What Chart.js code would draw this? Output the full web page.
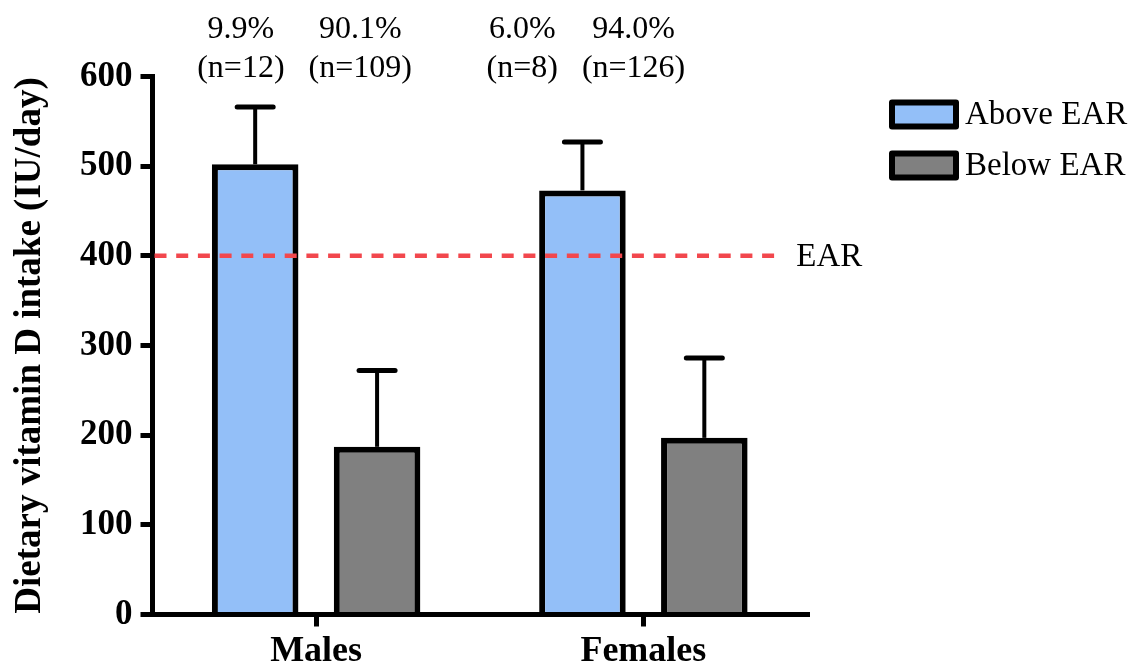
<!DOCTYPE html>
<html>
<head>
<meta charset="utf-8">
<script src="https://cdn.jsdelivr.net/npm/chart.js@4/dist/chart.umd.min.js"></script>
<style>
  html, body { margin: 0; padding: 0; background: #ffffff; }
  #wrap { width: 1148px; height: 666px; position: relative; }
</style>
</head>
<body>
<div id="wrap"><canvas id="c" width="1148" height="666"></canvas></div>
<script>
// ---- data ----
const categories = ['Males', 'Females'];
const seriesNames = ['Above EAR', 'Below EAR'];
const aboveValues = [502, 473];
const belowValues = [187, 197];
const aboveErrors = [64, 54];
const belowErrors = [85, 89];
const earValue = 400;
const earLabel = 'EAR';
const pctTexts = ['9.9%', '90.1%', '6.0%', '94.0%'];
const nTexts = ['(n=12)', '(n=109)', '(n=8)', '(n=126)'];
const yTickMin = 0;
const yTickMax = 600;
const yTickStep = 100;
const yTitle = 'Dietary vitamin D intake (IU/day)';

// ---- placement of annotations (in category-axis units) ----
const annotX = [-0.23, 0.135, 0.63, 0.97];
const earLineEnd = 1.4;

const BLUE = '#93BFF8';
const GRAY = '#808080';
const RED = '#F2474D';
const SERIF = '"Liberation Serif", "Times New Roman", serif';

const errorBarPlugin = {
  id: 'errorBars',
  afterDatasetsDraw(chart) {
    const ctx = chart.ctx;
    const y = chart.scales.y;
    const errs = [aboveErrors, belowErrors];
    chart.data.datasets.forEach((ds, di) => {
      const meta = chart.getDatasetMeta(di);
      meta.data.forEach((bar, i) => {
        const v = ds.data[i];
        const top = y.getPixelForValue(v + errs[di][i]);
        const base = y.getPixelForValue(v);
        ctx.save();
        ctx.strokeStyle = '#000';
        ctx.lineWidth = 4;
        ctx.beginPath();
        ctx.moveTo(bar.x, base);
        ctx.lineTo(bar.x, top);
        ctx.stroke();
        ctx.lineWidth = 5;
        ctx.lineCap = 'round';
        ctx.beginPath();
        ctx.moveTo(bar.x - 18, top);
        ctx.lineTo(bar.x + 18, top);
        ctx.stroke();
        ctx.restore();
      });
    });
  }
};

const earPlugin = {
  id: 'earLine',
  afterDatasetsDraw(chart) {
    const ctx = chart.ctx;
    const x = chart.scales.x, y = chart.scales.y;
    const py = y.getPixelForValue(earValue);
    const x0 = chart.chartArea.left;
    const x1 = x.getPixelForValue(earLineEnd);
    ctx.save();
    ctx.strokeStyle = RED;
    ctx.lineWidth = 4.5;
    ctx.setLineDash([12, 9.7]);
    ctx.beginPath();
    ctx.moveTo(x0 + 2, py);
    ctx.lineTo(x1, py);
    ctx.stroke();
    ctx.setLineDash([]);
    ctx.fillStyle = '#000';
    ctx.font = '33px ' + SERIF;
    ctx.textBaseline = 'middle';
    ctx.textAlign = 'left';
    ctx.fillText(earLabel, x1 + 22, py + 1);
    ctx.restore();
  }
};

const annotPlugin = {
  id: 'annot',
  afterDraw(chart) {
    const ctx = chart.ctx;
    const x = chart.scales.x;
    const top = chart.chartArea.top;
    ctx.save();
    ctx.fillStyle = '#000';
    ctx.font = '32px ' + SERIF;
    ctx.textAlign = 'center';
    ctx.textBaseline = 'middle';
    pctTexts.forEach((t, i) => {
      const px = x.getPixelForValue(annotX[i]);
      ctx.fillText(t, px, top - 47);
      ctx.fillText(nTexts[i], px, top - 8);
    });
    ctx.restore();
  }
};

const legendPlugin = {
  id: 'customLegend',
  afterDraw(chart) {
    const ctx = chart.ctx;
    const ca = chart.chartArea;
    const bx = ca.right + 85;
    const by0 = ca.top + 26;
    const bw = 64, bh = 24, gap = 51;
    ctx.save();
    chart.data.datasets.forEach((ds, i) => {
      const by = by0 + i * gap;
      ctx.fillStyle = ds.backgroundColor;
      ctx.strokeStyle = '#000';
      ctx.lineWidth = 6;
      ctx.lineJoin = 'round';
      ctx.beginPath();
      ctx.rect(bx, by, bw, bh);
      ctx.fill();
      ctx.stroke();
      ctx.fillStyle = '#000';
      ctx.font = '33px ' + SERIF;
      ctx.textAlign = 'left';
      ctx.textBaseline = 'middle';
      ctx.fillText(ds.label, bx + bw + 9, by + bh / 2 + 1);
    });
    ctx.restore();
  }
};

new Chart(document.getElementById('c'), {
  type: 'bar',
  data: {
    labels: categories,
    datasets: [
      { label: seriesNames[0], data: aboveValues, backgroundColor: BLUE, borderColor: '#000', borderWidth: 6, borderSkipped: 'start' },
      { label: seriesNames[1], data: belowValues, backgroundColor: GRAY, borderColor: '#000', borderWidth: 6, borderSkipped: 'start' }
    ]
  },
  options: {
    responsive: false,
    animation: false,
    categoryPercentage: 0.745,
    barPercentage: 0.71,
    layout: { padding: { top: 76.5, right: 341, bottom: 0, left: 0 } },
    plugins: { legend: { display: false }, tooltip: { enabled: false } },
    scales: {
      x: {
        afterFit(s) { s.height = 51.5; },
        border: { display: true, width: 5, color: '#000' },
        grid: { display: true, drawOnChartArea: false, offset: false, tickLength: 12, lineWidth: 5, color: '#000' },
        ticks: { color: '#000', padding: 4, font: { family: SERIF, size: 36, weight: 'bold' } }
      },
      y: {
        min: yTickMin, max: yTickMax,
        afterFit(s) { s.width = 152.5; },
        border: { display: true, width: 5, color: '#000' },
        grid: { display: true, drawOnChartArea: false, tickLength: 12, lineWidth: 5, color: '#000' },
        ticks: { stepSize: yTickStep, color: '#000', padding: 8, font: { family: SERIF, size: 35, weight: 'bold' } },
        title: { display: true, text: yTitle, color: '#000', padding: { top: 8, bottom: 0 }, font: { family: SERIF, size: 37, weight: 'bold' } }
      }
    }
  },
  plugins: [errorBarPlugin, earPlugin, annotPlugin, legendPlugin]
});
</script>
</body>
</html>
